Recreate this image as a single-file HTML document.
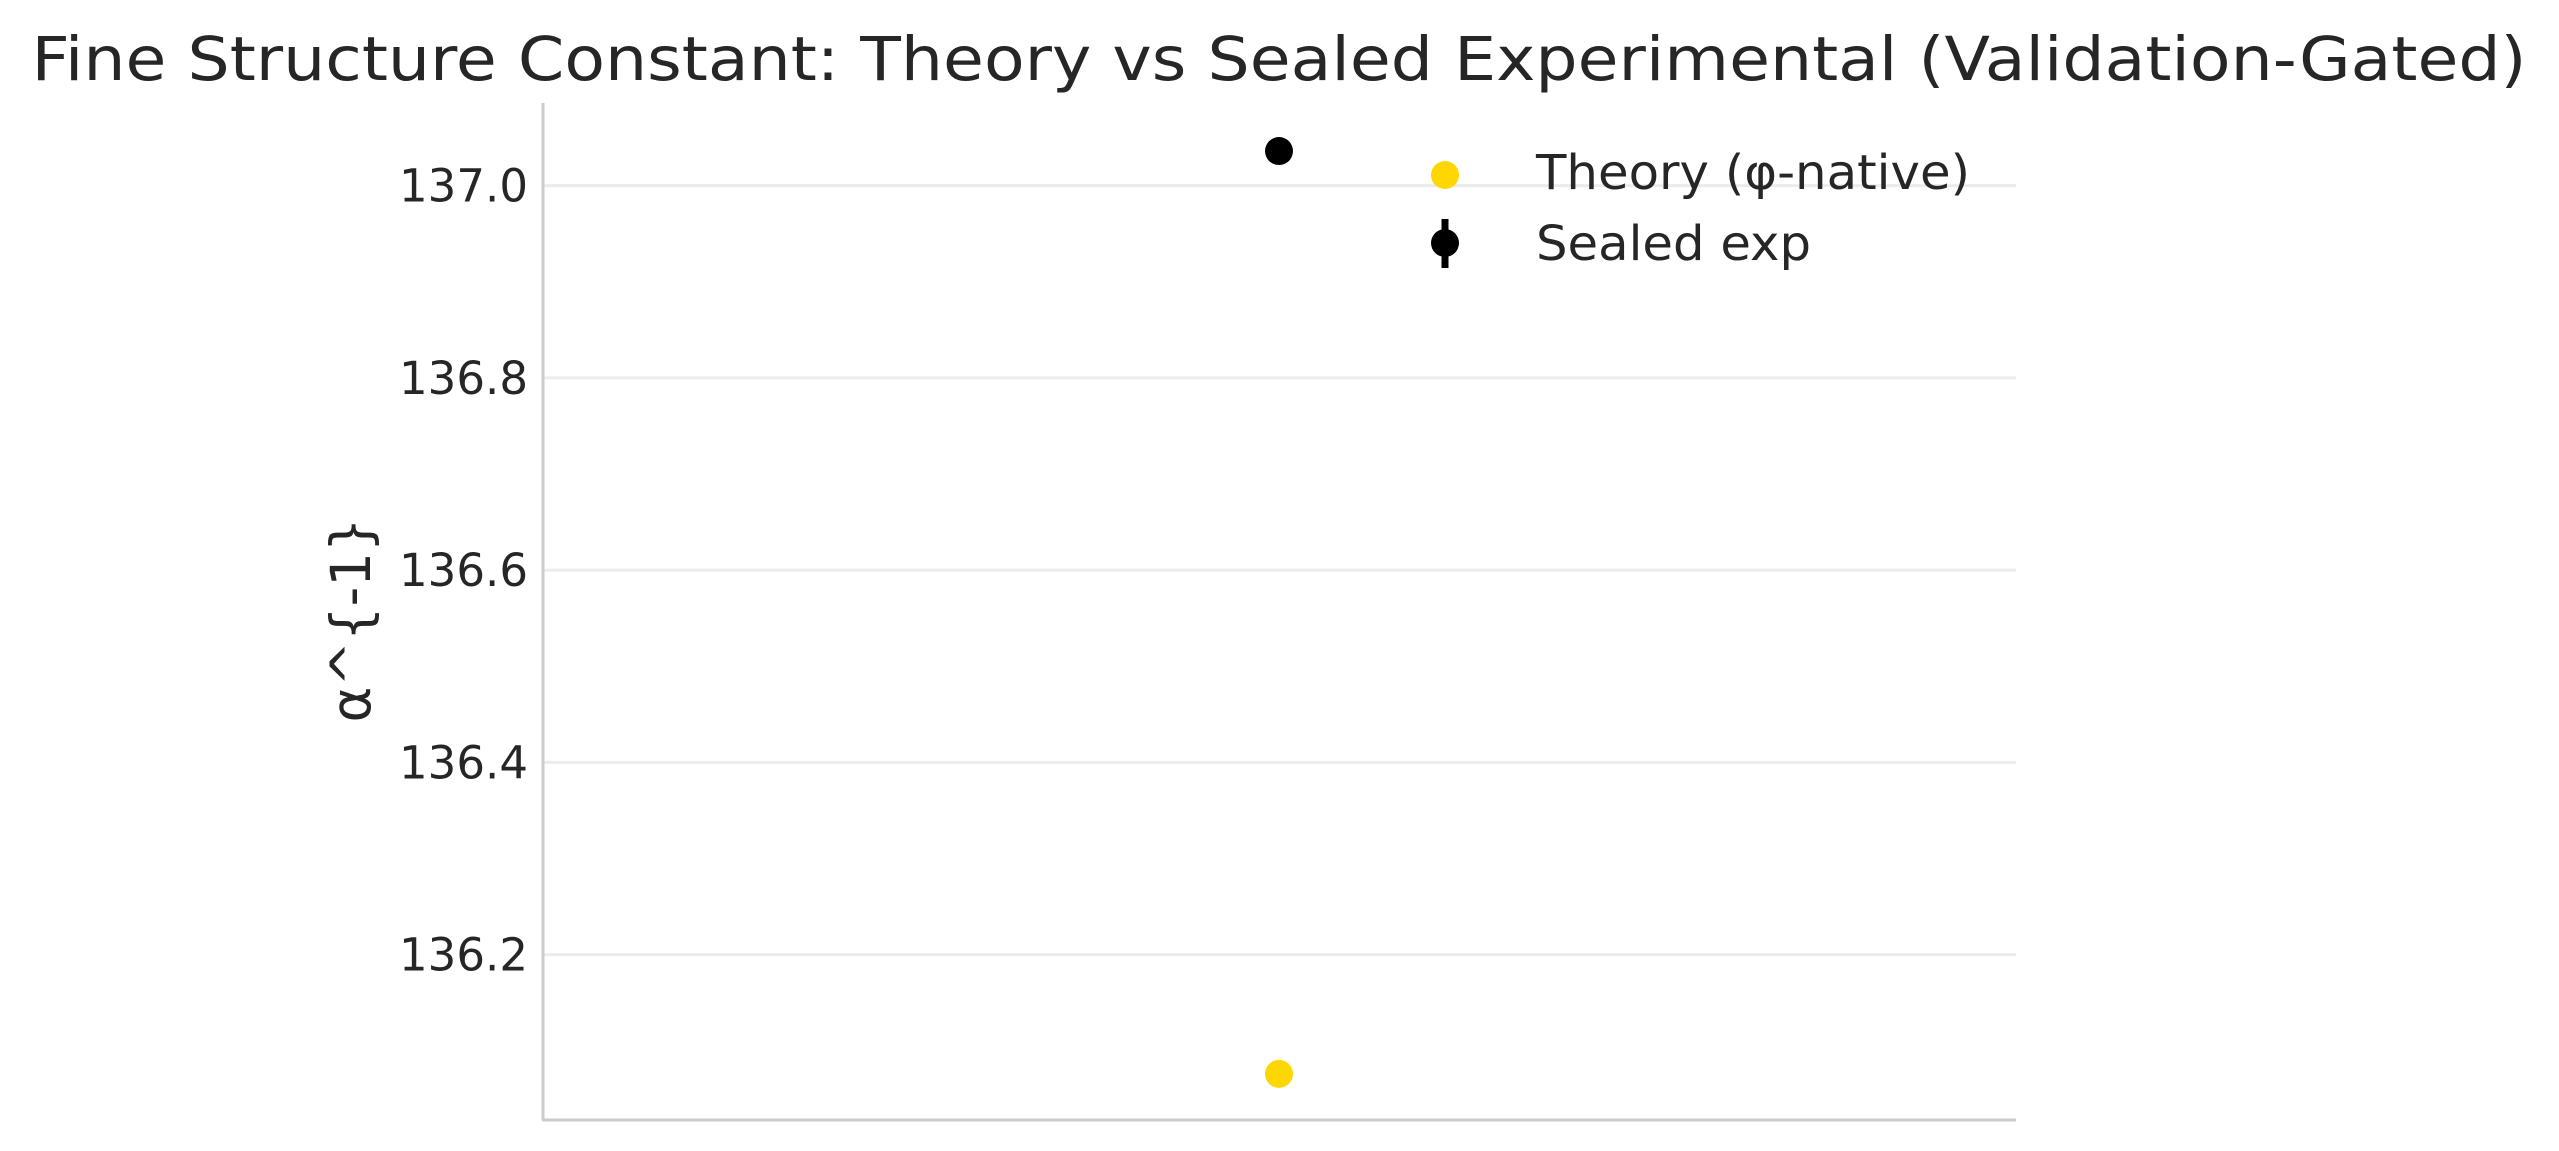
<!DOCTYPE html>
<html><head><meta charset="utf-8"><style>
html,body{margin:0;padding:0;background:#fff;}
svg{display:block;font-family:"DejaVu Sans","Liberation Sans",sans-serif;}
</style></head><body>
<svg id="chart" width="2559" height="1151" viewBox="0 0 2559 1151" xmlns="http://www.w3.org/2000/svg">
<rect width="2559" height="1151" fill="#fff"/>
<text x="1279" y="80" text-anchor="middle" font-size="61" fill="#262626" textLength="2495" lengthAdjust="spacingAndGlyphs">Fine Structure Constant: Theory vs Sealed Experimental (Validation-Gated)</text>
<g id="grid"></g>
<g id="yticks"></g>
<line x1="543" y1="103" x2="543" y2="1120" stroke="#cccccc" stroke-width="3"/>
<line x1="542" y1="1120" x2="2016" y2="1120" stroke="#cccccc" stroke-width="3"/>
<text transform="translate(370,620) rotate(-90)" text-anchor="middle" font-size="55" fill="#262626" textLength="205" lengthAdjust="spacingAndGlyphs">α^{-1}</text>
<g id="marks"></g>
<g>
  <g>
    <circle cx="1445" cy="175" r="14" fill="#ffd700"/>
    <text x="1536" y="189" font-size="48" fill="#262626" textLength="434" lengthAdjust="spacingAndGlyphs">Theory (φ-native)</text>
  </g>
  <g>
    <line x1="1445" y1="219" x2="1445" y2="268" stroke="#000" stroke-width="7"/>
    <circle cx="1445" cy="243" r="14" fill="#000"/>
    <text x="1536" y="260" font-size="48" fill="#262626" textLength="275" lengthAdjust="spacingAndGlyphs">Sealed exp</text>
  </g>
</g>
</svg>
<script>
const yTicks = [136.2, 136.4, 136.6, 136.8, 137.0];
const yTickLabels = ["136.2", "136.4", "136.6", "136.8", "137.0"];
const theoryValues = [136.076];
const sealedValues = [137.036];
const sealedErrors = [0.00001];

const Y0 = 136.028, Y1 = 137.086, TOP = 103, BOT = 1120, LEFT = 542, RIGHT = 2016;
function y(v){ return BOT - (v - Y0) / (Y1 - Y0) * (BOT - TOP); }
function x(i, n){ return LEFT + (i + 1) / (n + 1) * (RIGHT - LEFT); }
const NS = "http://www.w3.org/2000/svg";
const grid = document.getElementById('grid'), yt = document.getElementById('yticks'), marks = document.getElementById('marks');
yTicks.forEach((t, i) => {
  const l = document.createElementNS(NS, 'line');
  
  
  l.setAttribute('x1', LEFT); l.setAttribute('x2', RIGHT);
  l.setAttribute('y1', y(t)); l.setAttribute('y2', y(t));
  l.setAttribute('stroke', '#ebebeb'); l.setAttribute('stroke-width', '3');
  grid.appendChild(l);
  const tx = document.createElementNS(NS, 'text');
  
  
  tx.setAttribute('x', 528); tx.setAttribute('y', y(t) + 16);
  tx.setAttribute('text-anchor', 'end'); tx.setAttribute('font-size', '45'); tx.setAttribute('fill', '#262626');
  tx.setAttribute('textLength', '129'); tx.setAttribute('lengthAdjust', 'spacingAndGlyphs');
  tx.textContent = yTickLabels[i];
  yt.appendChild(tx);
});
theoryValues.forEach((v, i) => {
  const c = document.createElementNS(NS, 'circle');
  
  
  c.setAttribute('cx', x(i, theoryValues.length)); c.setAttribute('cy', y(v)); c.setAttribute('r', 14); c.setAttribute('fill', '#ffd700');
  marks.appendChild(c);
});
sealedValues.forEach((v, i) => {
  const cx = x(i, sealedValues.length);
  const e = document.createElementNS(NS, 'line');
  
  
  e.setAttribute('x1', cx); e.setAttribute('x2', cx);
  e.setAttribute('y1', y(v - sealedErrors[i])); e.setAttribute('y2', y(v + sealedErrors[i]));
  e.setAttribute('stroke', '#000'); e.setAttribute('stroke-width', 7);
  marks.appendChild(e);
  const c = document.createElementNS(NS, 'circle');
  
  
  c.setAttribute('cx', cx); c.setAttribute('cy', y(v)); c.setAttribute('r', 14); c.setAttribute('fill', '#000');
  marks.appendChild(c);
});
</script>
</body></html>
